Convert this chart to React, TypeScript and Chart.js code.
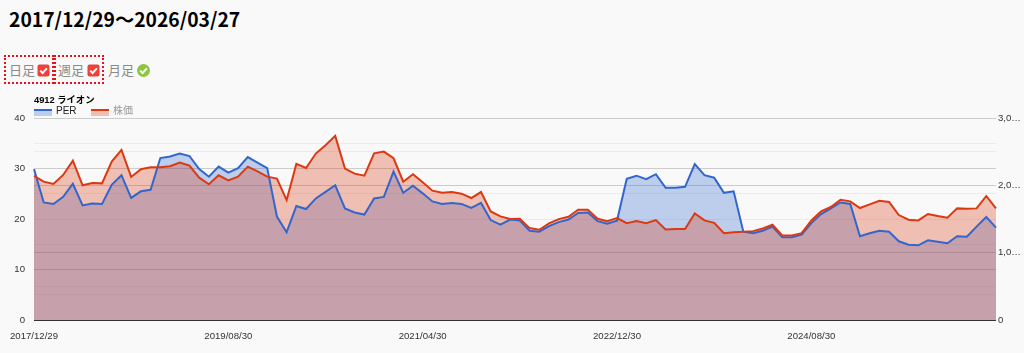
import React, { useEffect, useRef } from "react";
import { Chart, registerables } from "chart.js";

Chart.register(...registerables);

const categories = [
  "2017/12/29",
  "2018/01/31","2018/02/28","2018/03/30","2018/04/27","2018/05/31","2018/06/29","2018/07/31","2018/08/31","2018/09/28","2018/10/31","2018/11/30","2018/12/28",
  "2019/01/31","2019/02/28","2019/03/29","2019/04/26","2019/05/31","2019/06/28","2019/07/31","2019/08/30","2019/09/30","2019/10/31","2019/11/29","2019/12/30",
  "2020/01/31","2020/02/28","2020/03/31","2020/04/30","2020/05/29","2020/06/30","2020/07/31","2020/08/31","2020/09/30","2020/10/30","2020/11/30","2020/12/30",
  "2021/01/29","2021/02/26","2021/03/31","2021/04/30","2021/05/31","2021/06/30","2021/07/30","2021/08/31","2021/09/30","2021/10/29","2021/11/30","2021/12/30",
  "2022/01/31","2022/02/28","2022/03/31","2022/04/28","2022/05/31","2022/06/30","2022/07/29","2022/08/31","2022/09/30","2022/10/31","2022/11/30","2022/12/30",
  "2023/01/31","2023/02/28","2023/03/31","2023/04/28","2023/05/31","2023/06/30","2023/07/31","2023/08/31","2023/09/29","2023/10/31","2023/11/30","2023/12/29",
  "2024/01/31","2024/02/29","2024/03/29","2024/04/30","2024/05/31","2024/06/28","2024/07/31","2024/08/30","2024/09/30","2024/10/31","2024/11/29","2024/12/30",
  "2025/01/31","2025/02/28","2025/03/31","2025/04/30","2025/05/30","2025/06/30","2025/07/31","2025/08/29","2025/09/30","2025/10/31","2025/11/28","2025/12/30",
  "2026/01/30","2026/02/27","2026/03/27",
];

const per = [
  29.9,23.3,23.0,24.4,27.0,22.7,23.1,23.0,26.8,28.7,24.2,25.5,25.8,32.1,32.4,33.0,32.5,29.9,28.4,30.4,
  29.2,30.1,32.3,31.2,30.1,20.5,17.4,22.6,22.0,24.1,25.4,26.7,22.1,21.3,20.9,24.1,24.4,29.4,25.2,26.6,
  25.1,23.5,23.0,23.2,23.0,22.2,23.2,19.8,18.9,19.9,19.7,17.7,17.5,18.6,19.4,19.9,21.2,21.3,19.6,19.1,
  19.7,28.0,28.6,27.9,28.9,26.2,26.2,26.4,30.9,28.7,28.2,25.2,25.5,17.5,17.2,17.7,18.5,16.4,16.4,16.9,
  19.2,21.0,22.1,23.3,23.0,16.6,17.2,17.7,17.5,15.6,14.9,14.8,15.8,15.5,15.2,16.6,16.5,18.5,20.4,18.3,
];

const price = [
  2141,2056,2022,2156,2369,2002,2036,2031,2354,2528,2126,2240,2270,2270,2285,2339,2295,2116,2017,2151,
  2076,2131,2280,2210,2131,2101,1783,2320,2260,2474,2598,2737,2250,2175,2146,2478,2503,2404,2056,2166,
  2046,1922,1892,1902,1878,1813,1902,1614,1540,1500,1505,1366,1341,1435,1500,1535,1639,1639,1505,1470,
  1515,1440,1470,1440,1485,1346,1351,1351,1584,1480,1445,1291,1306,1311,1321,1361,1416,1257,1257,1291,
  1480,1614,1679,1788,1763,1664,1719,1773,1753,1560,1490,1480,1575,1545,1520,1659,1654,1659,1843,1659,
];

const xTickEvery = 20;
const leftTicks = ["0", "10", "20", "30", "40"];
const rightTicks = ["0", "1,0…", "2,0…", "3,0…"];
const titleText = "2017/12/29〜2026/03/27";
const chartTitle = "4912 ライオン";
const seriesNames = ["PER", "株価"];
const seriesColors = ["#3366cc", "#dc3912"];
const seriesFills = ["rgba(51,102,204,0.3)", "rgba(220,57,18,0.3)"];
const legendTextColors = ["#222222", "#999999"];
const axisFont = { family: "'Liberation Sans', Arial, sans-serif", size: 9.6 };

const legendPlugin = {
  id: "topLegend",
  afterDraw(chart: any) {
    const { ctx, chartArea } = chart;
    const itemX = [chartArea.left, chartArea.left + 57];
    chart.data.datasets.forEach((ds: any, i: number) => {
      const x = itemX[i];
      const y = 19;
      ctx.save();
      ctx.fillStyle = seriesFills[i];
      ctx.fillRect(x, y, 18, 7);
      ctx.fillStyle = seriesColors[i];
      ctx.fillRect(x, y, 18, 2);
      ctx.fillStyle = legendTextColors[i];
      ctx.font = "10px 'Liberation Sans', 'Noto Sans CJK JP', sans-serif";
      ctx.textBaseline = "middle";
      ctx.fillText(ds.label, x + 22, y + 2.5);
      ctx.restore();
    });
  },
};

function Check({ kind }: { kind: "red" | "green" }) {
  const style: React.CSSProperties = { display: "block", width: 13, height: 13 };
  return (
    <svg viewBox="0 0 13 13" style={style}>
      {kind === "red" ? (
        <rect x="0.5" y="0.5" width="12" height="12" rx="2" fill="#f0403c" />
      ) : (
        <circle cx="6.5" cy="6.5" r="6.5" fill="#8cc63f" />
      )}
      <path d="M3.2 6.6 L5.6 9 L9.9 4.4" fill="none" stroke="#fff" strokeWidth="2" />
    </svg>
  );
}

const abs = (left: number, top: number, extra: React.CSSProperties = {}): React.CSSProperties => ({
  position: "absolute",
  left,
  top,
  ...extra,
});

const labelStyle: React.CSSProperties = {
  font: "13px 'Noto Sans CJK JP', sans-serif",
  color: "#8a8a8a",
  lineHeight: "16px",
};

export default function App() {
  const ref = useRef<HTMLCanvasElement>(null);

  useEffect(() => {
    document.body.style.margin = "0";
    document.body.style.background = "#f9f9f9";
    const chart = new Chart(ref.current!, {
      type: "line",
      data: {
        labels: categories,
        datasets: [
          {
            label: seriesNames[0],
            data: per,
            yAxisID: "y",
            order: 2,
            borderColor: seriesColors[0],
            backgroundColor: seriesFills[0],
            borderWidth: 2,
            pointRadius: 0,
            tension: 0,
            fill: "origin",
          },
          {
            label: seriesNames[1],
            data: price,
            yAxisID: "y1",
            order: 1,
            borderColor: seriesColors[1],
            backgroundColor: seriesFills[1],
            borderWidth: 2,
            pointRadius: 0,
            tension: 0,
            fill: "origin",
          },
        ],
      },
      options: {
        responsive: false,
        animation: false,
        layout: { padding: 0 },
        plugins: {
          filler: { drawTime: "beforeDatasetsDraw" },
          legend: { display: false },
          tooltip: { enabled: false },
          title: {
            display: true,
            text: chartTitle,
            align: "start",
            fullSize: false,
            color: "#000",
            font: { family: "'Liberation Sans', 'Noto Sans CJK JP', sans-serif", size: 9.3, weight: "bold" },
            padding: { top: 5, bottom: 12 },
          },
        },
        scales: {
          x: {
            offset: false,
            border: { display: false },
            grid: { display: false },
            afterFit(s: any) {
              s.height = 33;
            },
            ticks: {
              autoSkip: false,
              maxRotation: 0,
              color: "#333",
              font: axisFont,
              padding: 3,
              callback(_v: any, i: number) {
                return i % xTickEvery === 0 ? categories[i] : "";
              },
            },
          },
          y: {
            position: "left",
            min: 0,
            max: 40,
            border: { display: false },
            afterFit(s: any) {
              s.width = 34;
            },
            grid: {
              drawTicks: false,
              color(c: any) {
                if (c.tick.value === 0) return "#333333";
                return c.tick.value % 10 === 0 ? "#cccccc" : "#ebebeb";
              },
            },
            ticks: {
              stepSize: 5,
              autoSkip: false,
              color: "#333",
              font: axisFont,
              padding: 9,
              callback(v: any) {
                return v % 10 === 0 ? leftTicks[v / 10] : "";
              },
            },
          },
          y1: {
            position: "right",
            min: 0,
            max: 3000,
            border: { display: false },
            afterFit(s: any) {
              s.width = 28;
            },
            grid: {
              drawTicks: false,
              color(c: any) {
                if (c.tick.value === 0) return "#333333";
                return c.tick.value % 1000 === 0 ? "#cccccc" : "#ebebeb";
              },
            },
            ticks: {
              stepSize: 500,
              autoSkip: false,
              color: "#333",
              font: axisFont,
              padding: 2,
              callback(v: any) {
                return v % 1000 === 0 ? rightTicks[v / 1000] : "";
              },
            },
          },
        },
      },
      plugins: [legendPlugin],
    } as any);
    return () => chart.destroy();
  }, []);

  return (
    <div style={{ position: "relative", width: 1024, height: 353, overflow: "hidden", background: "#f9f9f9" }}>
      <div style={abs(9, 4, { font: "bold 19.3px 'Noto Sans CJK JP', sans-serif", color: "#000", lineHeight: "30px", whiteSpace: "nowrap" })}>
        {titleText}
      </div>
      <div style={abs(4, 55, { width: 46, height: 25, border: "2px dotted #e8101a" })} />
      <div style={abs(54, 55, { width: 46, height: 25, border: "2px dotted #e8101a" })} />
      <div style={abs(9, 62, labelStyle)}>日足</div>
      <div style={abs(37, 64)}><Check kind="red" /></div>
      <div style={abs(58, 62, labelStyle)}>週足</div>
      <div style={abs(87, 64)}><Check kind="red" /></div>
      <div style={abs(108, 62, labelStyle)}>月足</div>
      <div style={abs(137, 64)}><Check kind="green" /></div>
      <canvas ref={ref} width={1024} height={263} style={abs(0, 90, { display: "block" })} />
    </div>
  );
}
